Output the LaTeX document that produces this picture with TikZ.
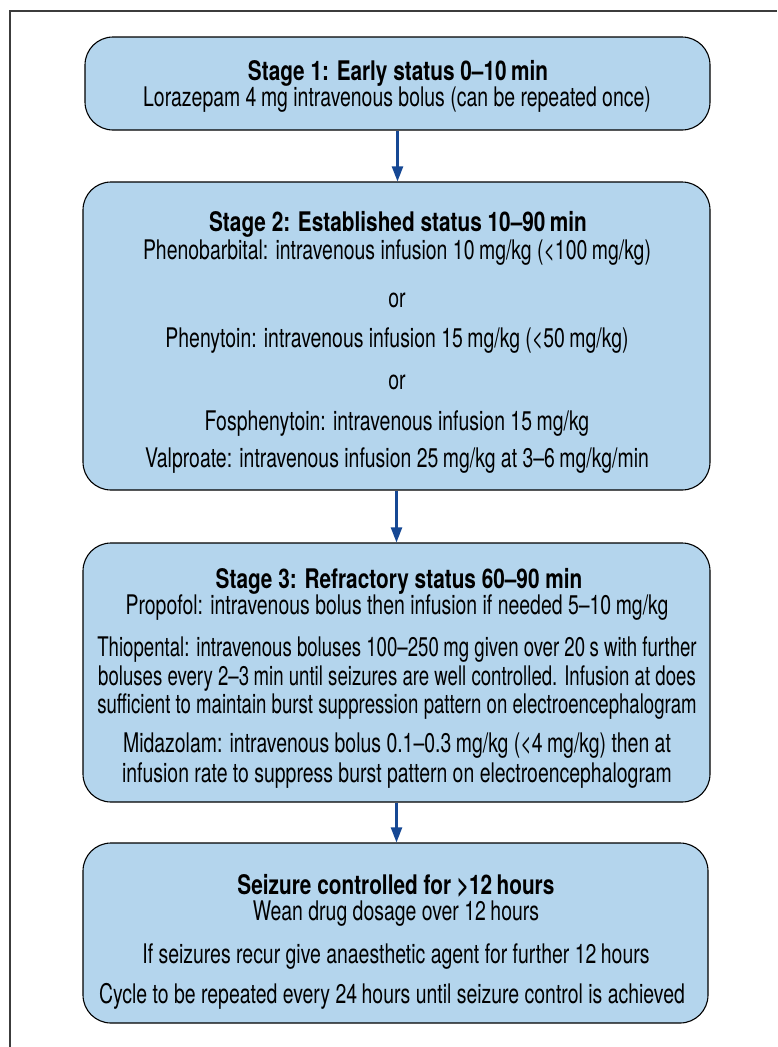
\documentclass[tikz,border=0pt]{standalone}
\usepackage{fontspec}
\setmainfont{TeX Gyre Heros}[FakeStretch=0.72, BoldFeatures={FakeStretch=0.77}]
\newfontfamily\narrowfont{TeX Gyre Heros}[FakeStretch=0.69]
\usetikzlibrary{arrows.meta}
\definecolor{boxblue}{RGB}{180,213,237}
\definecolor{arrowblue}{RGB}{22,72,148}
\definecolor{framegray}{RGB}{60,60,60}
\begin{document}
\begin{tikzpicture}[x=1pt,y=-1pt,
  stagebox/.style={draw=black, line width=1.1pt, fill=boxblue, rounded corners=28pt, inner sep=0pt},
  txt/.style={anchor=base, inner sep=0pt, font=\fontsize{27}{30}\selectfont},
  ntxt/.style={anchor=base, inner sep=0pt, font=\fontsize{27}{30}\selectfont\narrowfont},
  ttl/.style={txt, font=\fontsize{27}{30}\selectfont\bfseries},
  flow/.style={draw=arrowblue, line width=2.2pt, -{Triangle[width=11pt,length=15pt]}, arrowblue}
]
\useasboundingbox (0,0) rectangle (777,1047);
\draw[framegray, line width=1.3pt] (10,1047) -- (10,11) -- (777,11);

% boxes
\node[stagebox, minimum width=625pt, minimum height=93pt] (b1) at (397.5,83.5) {};
\node[stagebox, minimum width=627pt, minimum height=308pt] (b2) at (396.5,336) {};
\node[stagebox, minimum width=627pt, minimum height=259pt] (b3) at (396.5,672.5) {};
\node[stagebox, minimum width=625pt, minimum height=180pt] (b4) at (395.5,933) {};

% stage 1
\node[ttl] (t1) at (398,80) {Stage 1: Early status 0–10\,min};
\node[txt] (t1a) at (397,106) {Lorazepam 4\,mg intravenous bolus (can be repeated once)};

% stage 2
\node[ttl] (t2) at (398,231) {Stage 2: Established status 10–90\,min};
\node[txt] (t2a) at (397,259) {Phenobarbital: intravenous infusion 10\,mg/kg (<100\,mg/kg)};
\node[txt] (t2b) at (397,307) {or};
\node[txt] (t2c) at (397,347) {Phenytoin: intravenous infusion 15\,mg/kg (<50\,mg/kg)};
\node[txt] (t2d) at (397,389) {or};
\node[txt] (t2e) at (397,430) {Fosphenytoin: intravenous infusion 15\,mg/kg};
\node[txt] (t2f) at (397,467) {Valproate: intravenous infusion 25\,mg/kg at 3–6\,mg/kg/min};

% stage 3
\node[ttl] (t3) at (399,588) {Stage 3: Refractory status 60–90 min};
\node[txt] (t3a) at (397,614) {Propofol: intravenous bolus then infusion if needed 5–10\,mg/kg};
\node[ntxt] (t3b) at (397,656) {Thiopental: intravenous boluses 100–250\,mg given over 20\,s with further};
\node[ntxt] (t3c) at (397,685) {boluses every 2–3\,min until seizures are well controlled. Infusion at does};
\node[ntxt] (t3d) at (397,713) {sufficient to maintain burst suppression pattern on electroencephalogram};
\node[txt] (t3e) at (397,752) {Midazolam: intravenous bolus 0.1–0.3\,mg/kg (<4\,mg/kg) then at};
\node[txt] (t3f) at (397,782) {infusion rate to suppress burst pattern on electroencephalogram};

% stage 4
\node[ttl] (t4) at (396,894) {Seizure controlled for >12\,hours};
\node[txt] (t4a) at (396,920) {Wean drug dosage over 12\,hours};
\node[txt] (t4b) at (396,963) {If seizures recur give anaesthetic agent for further 12\,hours};
\node[txt] (t4c) at (392,1003) {Cycle to be repeated every 24\,hours until seizure control is achieved};

\draw[flow] (b1.south) -- (b1.south |- b2.north);
\draw[flow] (b2.south) -- (b2.south |- b3.north);
\draw[flow] (b3.south) -- (b3.south |- b4.north);
\end{tikzpicture}
\end{document}
